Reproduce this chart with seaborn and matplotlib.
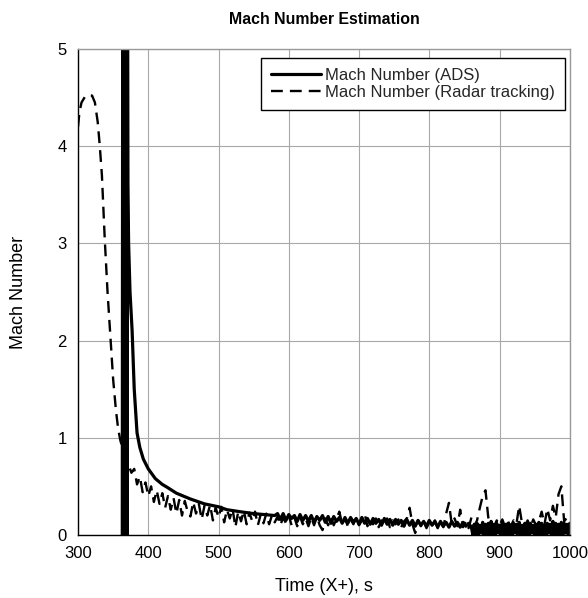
import numpy as np
import pandas as pd
import matplotlib
matplotlib.use("Agg")
import matplotlib.pyplot as plt
import seaborn as sns

# ---------------- data ----------------
# ADS Mach number
ads_bar_time = [363.0, 363.5, 364.0, 364.5, 365.0, 365.5, 366.0, 366.5, 367.0,
                367.5, 368.0, 368.5, 369.0, 369.5, 370.0, 370.5, 371.0]
ads_bar_mach = [0, 5, 0, 5, 0, 5, 0, 5, 0, 5, 0, 5, 0, 5, 0, 5, 3.6]

ads_decay_time = [372, 374, 377, 380, 384, 388, 393, 400, 410, 420, 427, 440,
                  460, 480, 500, 512, 530, 550, 580]
ads_decay_mach = [3.0, 2.5, 2.1, 1.5, 1.05, 0.9, 0.78, 0.68, 0.58, 0.52, 0.49,
                  0.43, 0.37, 0.32, 0.29, 0.26, 0.24, 0.22, 0.20]

ads_noise_time = list(np.arange(584, 861, 4))
ads_noise_mach = [0.22, 0.16, 0.22, 0.15, 0.21, 0.17, 0.20, 0.14, 0.21, 0.15,
                  0.20, 0.14, 0.20, 0.13, 0.19, 0.15, 0.20, 0.13, 0.19, 0.12,
                  0.19, 0.14, 0.18, 0.12, 0.18,
                  0.12, 0.18, 0.13, 0.17, 0.11, 0.18, 0.12, 0.17, 0.11, 0.17,
                  0.12, 0.16, 0.10, 0.17, 0.11, 0.16, 0.10, 0.16, 0.11, 0.15,
                  0.09, 0.16, 0.10, 0.15, 0.09,
                  0.15, 0.10, 0.14, 0.09, 0.15, 0.10, 0.14, 0.08, 0.14, 0.09,
                  0.13, 0.08, 0.14, 0.09, 0.13, 0.08, 0.13, 0.09, 0.12, 0.08]

ads_band_time = list(np.arange(862, 1001, 2))
ads_band_mach = [0.00, 0.11, 0.01, 0.12, 0.00, 0.10, 0.02, 0.13, 0.00, 0.11,
                 0.01, 0.12, 0.00, 0.14, 0.01, 0.11, 0.00, 0.12, 0.02, 0.10,
                 0.00, 0.13, 0.01, 0.11, 0.00, 0.12, 0.01, 0.10, 0.00, 0.12,
                 0.02, 0.11, 0.00, 0.13, 0.01, 0.10, 0.00, 0.12, 0.01, 0.11,
                 0.00, 0.12, 0.02, 0.10, 0.00, 0.11, 0.01, 0.13, 0.00, 0.12,
                 0.01, 0.10, 0.00, 0.12, 0.02, 0.11, 0.00, 0.14, 0.01, 0.12,
                 0.00, 0.11, 0.01, 0.13, 0.00, 0.12, 0.02, 0.11, 0.00, 0.12]

# Radar tracking Mach number
radar_head_time = [300, 302, 305, 310, 315, 320, 324, 328, 331, 334, 338, 342,
                   346, 350, 354, 357, 360, 363, 366, 369]
radar_head_mach = [4.2, 4.35, 4.45, 4.51, 4.53, 4.52, 4.45, 4.25, 4.0, 3.7,
                   3.05, 2.5, 2.05, 1.6, 1.28, 1.1, 0.98, 0.9, 0.8, 0.75]

radar_tail_time = list(np.arange(372, 1001, 4))
radar_tail_mach = [
    0.72, 0.64, 0.68, 0.52, 0.60, 0.44, 0.54, 0.40, 0.50, 0.34, 0.46, 0.32, 0.43,
    0.28, 0.40, 0.26, 0.38, 0.22, 0.36, 0.20, 0.35, 0.24, 0.19, 0.34, 0.22,
    0.32, 0.16, 0.30, 0.20, 0.31, 0.15, 0.28, 0.18, 0.29, 0.13, 0.26, 0.17, 0.27,
    0.08, 0.24, 0.14, 0.25, 0.11, 0.23, 0.14, 0.24, 0.10, 0.21, 0.12, 0.22,
    0.11, 0.20, 0.13, 0.19, 0.10, 0.18, 0.12, 0.20, 0.10, 0.18, 0.09, 0.19, 0.11,
    0.17, 0.09, 0.18, 0.10, 0.19, 0.10, 0.05, 0.17, 0.10, 0.18, 0.10, 0.17,
    0.24, 0.11, 0.17, 0.09, 0.16, 0.11, 0.18, 0.10, 0.15, 0.22, 0.09, 0.16, 0.11,
    0.17, 0.08, 0.15, 0.10, 0.17, 0.08, 0.15, 0.11, 0.16, 0.08, 0.14, 0.17,
    0.28, 0.11, 0.02, 0.15, 0.09, 0.14, 0.07, 0.13, 0.09, 0.15, 0.07, 0.13, 0.08,
    0.22, 0.33, 0.11, 0.17, 0.09, 0.26, 0.08, 0.14, 0.07, 0.18, 0.09, 0.15,
    0.28, 0.40, 0.46, 0.18, 0.12, 0.08, 0.15, 0.10, 0.16, 0.08, 0.14, 0.09, 0.15,
    0.11, 0.30, 0.12, 0.09, 0.15, 0.08, 0.16, 0.10, 0.14, 0.24, 0.11, 0.27,
    0.15, 0.30, 0.18, 0.42, 0.50, 0.14, 0.18, 0.12]

ads_time = ads_bar_time + ads_decay_time + ads_noise_time + ads_band_time
ads_mach = ads_bar_mach + ads_decay_mach + ads_noise_mach + ads_band_mach
radar_time = radar_head_time + radar_tail_time
radar_mach = radar_head_mach + radar_tail_mach

ads_df = pd.DataFrame({"time": ads_time, "mach": ads_mach})
radar_df = pd.DataFrame({"time": radar_time, "mach": radar_mach})

# ---------------- plot ----------------
sns.set_theme(style="white")
plt.rcParams["font.family"] = ["Liberation Sans", "DejaVu Sans"]

fig = plt.figure(figsize=(5.88, 5.98), dpi=100)
ax = fig.add_axes([0.1327, 0.1054, 0.8363, 0.8127])

sns.lineplot(data=ads_df, x="time", y="mach", ax=ax, color="black",
             linewidth=2.3, estimator=None, sort=False,
             label="Mach Number (ADS)")
sns.lineplot(data=radar_df, x="time", y="mach", ax=ax, color="black",
             linewidth=1.7, estimator=None, sort=False,
             linestyle=(0, (5, 3)), label="Mach Number (Radar tracking)")

ax.set_xlim(300, 1000)
ax.set_ylim(0, 5)
ax.set_xticks([300, 400, 500, 600, 700, 800, 900, 1000])
ax.set_yticks([0, 1, 2, 3, 4, 5])
ax.tick_params(axis="both", length=0, pad=8, labelsize=12, colors="black")

ax.grid(True, color="#a8a8a8", linewidth=0.8)
ax.set_axisbelow(True)
for side in ["left", "bottom"]:
    ax.spines[side].set_color("black")
    ax.spines[side].set_linewidth(1.0)
for side in ["top", "right"]:
    ax.spines[side].set_color("#9a9a9a")
    ax.spines[side].set_linewidth(1.0)

ax.set_xlabel("Time (X+), s", fontsize=13, labelpad=12, color="black")
ax.set_ylabel("Mach Number", fontsize=13, labelpad=22, color="black")
ax.set_title("Mach Number Estimation", fontsize=11.4, fontweight="bold",
             pad=18, color="black")

leg = ax.legend(loc="upper right", bbox_to_anchor=(0.990, 0.982),
                fontsize=12, frameon=True, fancybox=False, edgecolor="black",
                framealpha=1, handlelength=3.0, handletextpad=0.25,
                borderpad=0.6, labelspacing=0.15, borderaxespad=0)
leg.get_frame().set_linewidth(1.0)

fig.savefig("out.png", dpi=100)
